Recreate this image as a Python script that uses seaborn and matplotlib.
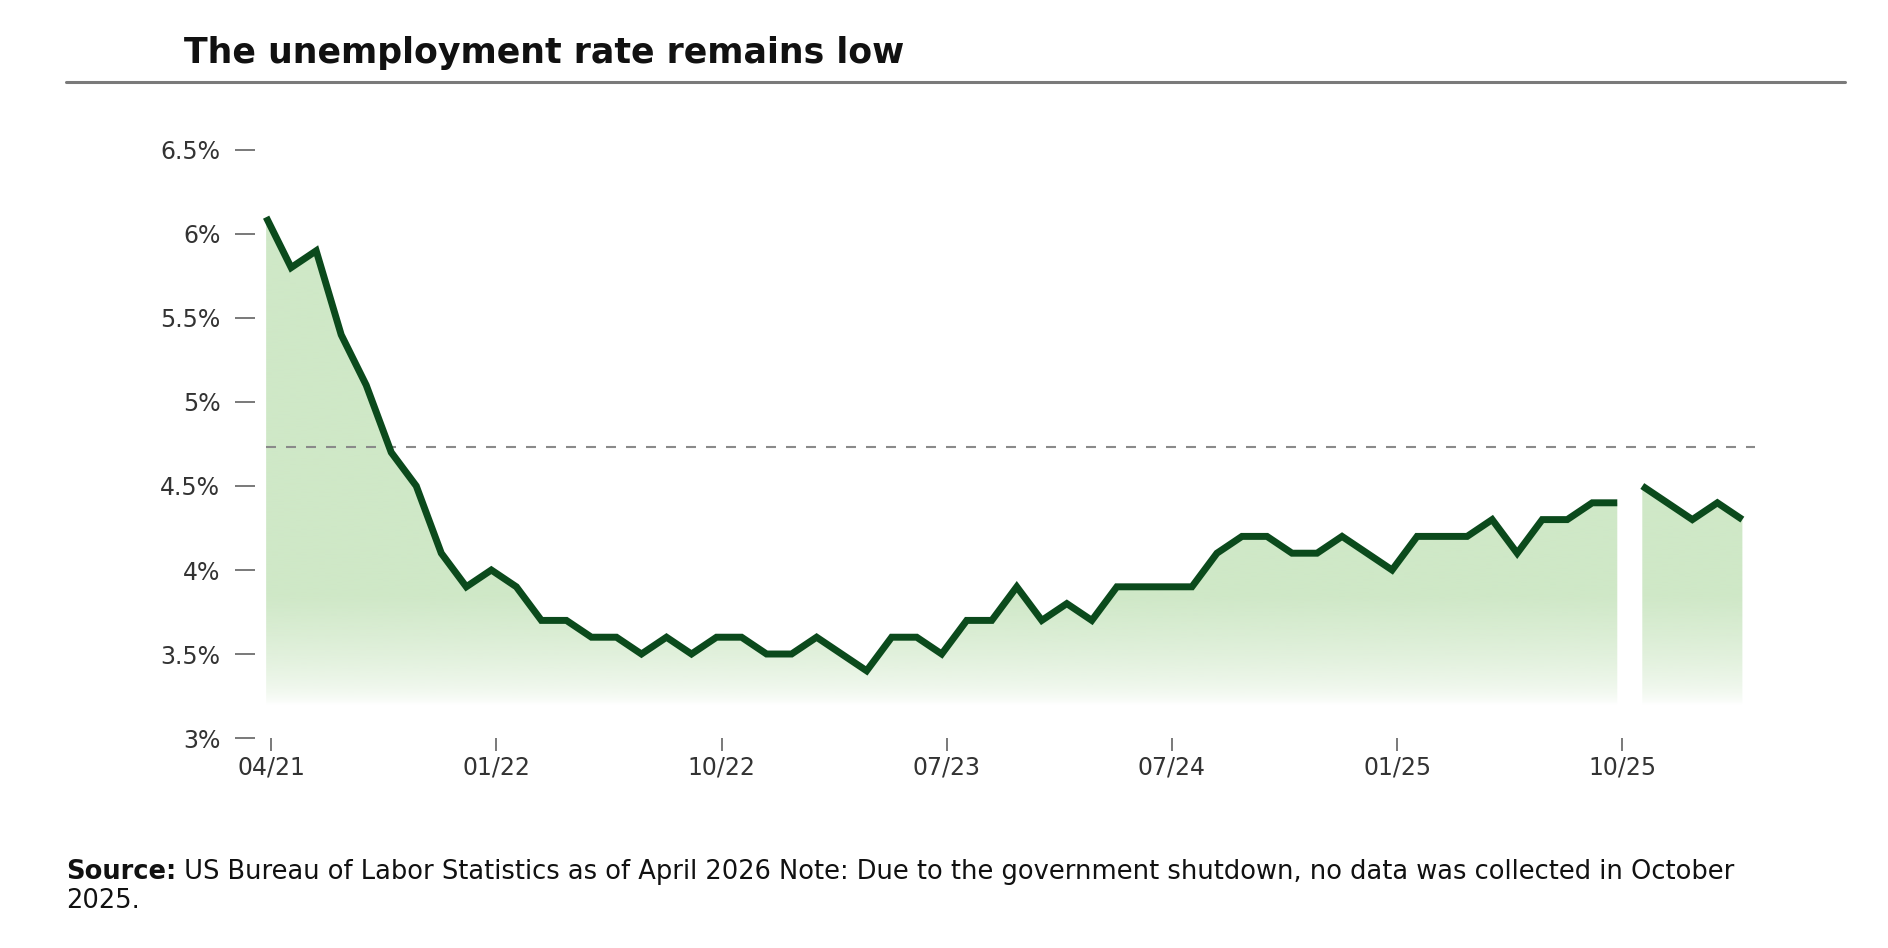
# The unemployment rate remains low - recreated with seaborn

import numpy as np
import pandas as pd
import matplotlib.pyplot as plt
import seaborn as sns
from matplotlib.lines import Line2D
from matplotlib.colors import to_rgb

# monthly unemployment rate (%), April 2021 onwards; October 2025 was not collected
rate_before = [6.1, 5.8, 5.9, 5.4, 5.1, 4.7, 4.5, 4.1, 3.9,
               4.0, 3.9, 3.7, 3.7, 3.6, 3.6, 3.5, 3.6, 3.5, 3.6, 3.6, 3.5,
               3.5, 3.6, 3.5, 3.4, 3.6, 3.6, 3.5, 3.7, 3.7, 3.9, 3.7, 3.8,
               3.7, 3.9, 3.9, 3.9, 3.9, 4.1, 4.2, 4.2, 4.1, 4.1, 4.2, 4.1,
               4.0, 4.2, 4.2, 4.2, 4.3, 4.1, 4.3, 4.3, 4.4, 4.4]
rate_after = [4.5, 4.4, 4.3, 4.4, 4.3]
reference_level = 4.73

tick_index = [0, 9, 18, 27, 36, 45, 54]
tick_labels = ['04/21', '01/22', '10/22', '07/23', '07/24', '01/25', '10/25']
y_ticks = [3, 3.5, 4, 4.5, 5, 5.5, 6, 6.5]
y_labels = ['3%', '3.5%', '4%', '4.5%', '5%', '5.5%', '6%', '6.5%']

line_color = '#0b4a1c'
fill_color = '#cfe8c7'

df = pd.DataFrame({
    'pos': np.arange(len(rate_before) + len(rate_after)),
    'rate': rate_before + rate_after,
    'segment': ['before'] * len(rate_before) + ['after'] * len(rate_after),
})

sns.set_style('white')
plt.rcParams['font.family'] = ['DejaVu Sans']

fig = plt.figure(figsize=(18.88, 9.48), dpi=100)
ax = fig.add_axes([0.135, 0.2215, 0.7945, 0.6203])

y_bottom, y_top = 3.0, 6.5
x_left, x_right = -0.45, 59.5

# gradient fill under each segment (solid green fading to white near the bottom)
levels = np.linspace(y_bottom, y_top, 400)
alpha = np.clip((levels - 3.2) / 0.65, 0, 1) ** 0.6
grad = np.zeros((len(levels), 1, 4))
grad[:, 0, :3] = to_rgb(fill_color)
grad[:, 0, 3] = alpha

for seg, part in df.groupby('segment', sort=False):
    poly = ax.fill_between(part['pos'], part['rate'], y_bottom, color='none', lw=0)
    im = ax.imshow(grad, extent=[x_left, x_right, y_bottom, y_top], origin='lower',
                   aspect='auto', interpolation='bilinear', zorder=1)
    im.set_clip_path(poly.get_paths()[0], transform=ax.transData)

ax.hlines(reference_level, 0, x_right, colors='#8a8a8a', linestyles=(0, (4.8, 4.8)),
          lw=1.5, zorder=2)

sns.lineplot(data=df, x='pos', y='rate', units='segment', estimator=None,
             color=line_color, lw=5, ax=ax, zorder=3, legend=False)
for l in ax.lines:
    l.set_solid_capstyle('butt')
    l.set_solid_joinstyle('miter')

ax.set_xlim(x_left, x_right)
ax.set_ylim(y_bottom, y_top)
ax.set_xticks([i + 0.2 for i in tick_index])
ax.set_xticklabels(tick_labels)
ax.set_yticks(y_ticks)
ax.set_yticklabels(y_labels)
ax.set_xlabel('')
ax.set_ylabel('')
sns.despine(ax=ax, left=True, bottom=True)
ax.tick_params(axis='y', direction='out', length=14.4, width=1.1, color='#555555',
               pad=10.5, labelsize=17, labelcolor='#333333', left=True)
ax.tick_params(axis='x', direction='out', length=9.5, width=1.1, color='#555555',
               pad=3, labelsize=17, labelcolor='#333333', bottom=True)

fig.text(184 / 1888, 1 - 53 / 948, 'The unemployment rate remains low',
         fontsize=25, fontweight='bold', color='#111111', ha='left', va='center')
fig.add_artist(Line2D([66 / 1888, 1845 / 1888], [1 - 82 / 948] * 2,
                      color='#7a7a7a', lw=2.2))

src = fig.text(66 / 1888, 1 - 872 / 948, 'Source:', fontsize=18.5, fontweight='bold',
               color='#111111', ha='left', va='center')
ax.annotate(' US Bureau of Labor Statistics as of April 2026 Note: Due to the government '
            'shutdown, no data was collected in October',
            xy=(1, 0.5), xycoords=src, ha='left', va='center', fontsize=18.5, color='#111111')
fig.text(66 / 1888, 1 - 901 / 948, '2025.', fontsize=18.5, color='#111111',
         ha='left', va='center')

plt.savefig('out.png', dpi=100)
